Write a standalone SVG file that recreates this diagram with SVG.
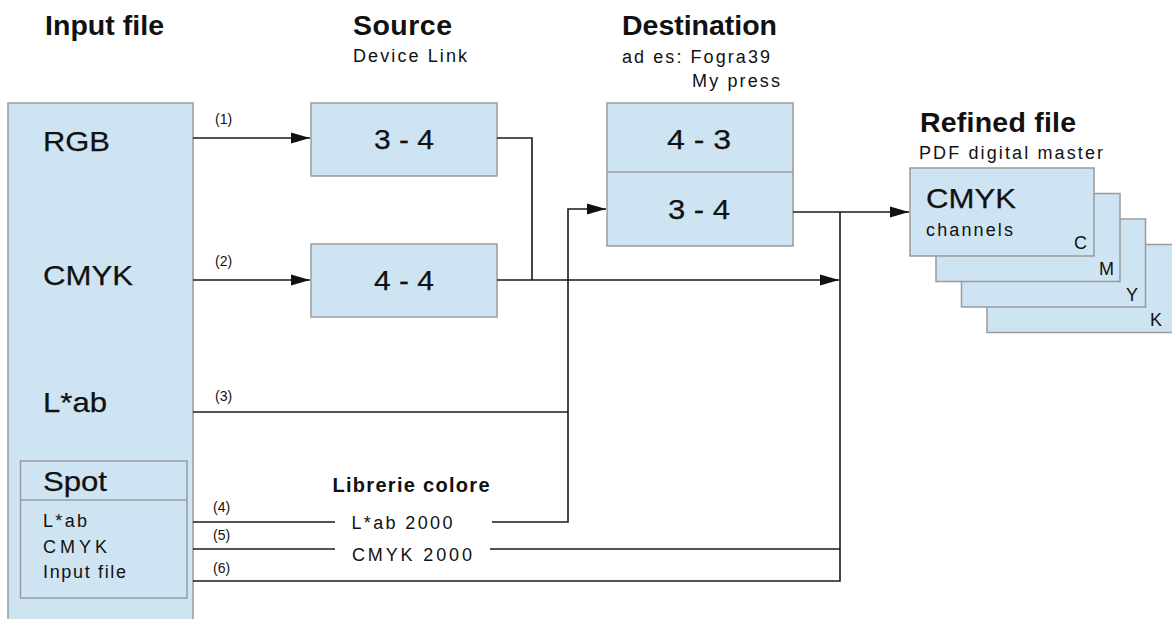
<svg xmlns="http://www.w3.org/2000/svg" width="1172" height="619" viewBox="0 0 1172 619">
  <style>
    text { font-family: "Liberation Sans", Arial, sans-serif; fill: #111; }
    .title { font-size: 28.5px; font-weight: bold; }
    .sub { font-size: 18px; }
    .big { font-size: 28px; stroke: #111; stroke-width: 0.25; }
    .mid { font-size: 18px; }
    .num { font-size: 14px; }
    .box { fill: #cfe4f2; stroke: #9a9a9a; stroke-width: 1.5; }
    .wire { fill: none; stroke: #1a1a1a; stroke-width: 1.6; }
  </style>
  <defs>
    <marker id="arrow" markerUnits="userSpaceOnUse" markerWidth="20" markerHeight="12" refX="19" refY="6" orient="auto">
      <path d="M0,0.5 L19,6 L0,11.5 z" fill="#111"/>
    </marker>
  </defs>

  <rect width="1172" height="619" fill="#ffffff"/>

  <!-- column headings -->
  <g id="headings">
    <text class="title" x="45" y="35" textLength="119">Input file</text>
    <text class="title" x="353" y="35" textLength="99">Source</text>
    <text class="sub" x="353" y="62" textLength="114">Device Link</text>
    <text class="title" x="622" y="35" textLength="155">Destination</text>
    <text class="sub" x="622" y="63" textLength="148">ad es: Fogra39</text>
    <text class="sub" x="692" y="87" textLength="88">My press</text>
  </g>

  <!-- input file column -->
  <g id="input-file">
    <rect class="box" x="8" y="103" width="185" height="540"/>
    <text class="big" x="43" y="151" textLength="67" lengthAdjust="spacingAndGlyphs">RGB</text>
    <text class="big" x="43" y="285" textLength="90" lengthAdjust="spacingAndGlyphs">CMYK</text>
    <text class="big" x="43" y="412" textLength="64" lengthAdjust="spacingAndGlyphs">L*ab</text>
  </g>

  <g id="spot">
    <rect class="box" x="20.5" y="461" width="166.5" height="137"/>
    <line x1="20.5" y1="500" x2="187" y2="500" stroke="#9a9a9a" stroke-width="1.5"/>
    <text class="big" x="43" y="491" textLength="64" lengthAdjust="spacingAndGlyphs">Spot</text>
    <text class="mid" x="43" y="527" textLength="44">L*ab</text>
    <text class="mid" x="43" y="553" textLength="64">CMYK</text>
    <text class="mid" x="43" y="578" textLength="83">Input file</text>
  </g>

  <!-- device link profiles -->
  <g id="source-rgb">
    <rect class="box" x="311" y="103" width="186" height="73"/>
    <text class="big" x="404" y="149" text-anchor="middle" textLength="60" lengthAdjust="spacingAndGlyphs">3 - 4</text>
  </g>
  <g id="source-cmyk">
    <rect class="box" x="311" y="244" width="186" height="73"/>
    <text class="big" x="404" y="290" text-anchor="middle" textLength="60" lengthAdjust="spacingAndGlyphs">4 - 4</text>
  </g>

  <!-- destination profile -->
  <g id="destination">
    <rect class="box" x="607" y="103" width="186" height="143"/>
    <line x1="607" y1="172" x2="793" y2="172" stroke="#9a9a9a" stroke-width="1.5"/>
    <text class="big" x="699" y="149" text-anchor="middle" textLength="64" lengthAdjust="spacingAndGlyphs">4 - 3</text>
    <text class="big" x="699" y="219" text-anchor="middle" textLength="62" lengthAdjust="spacingAndGlyphs">3 - 4</text>
  </g>

  <!-- colour libraries -->
  <g id="libraries">
    <text x="411" y="492" text-anchor="middle" font-size="20" font-weight="bold" textLength="157">Librerie colore</text>
    <text class="mid" x="402" y="529" text-anchor="middle" font-size="22" textLength="101">L*ab 2000</text>
    <text class="mid" x="412" y="561" text-anchor="middle" font-size="22" textLength="120">CMYK 2000</text>
  </g>

  <!-- output separations -->
  <g id="refined-file">
    <text class="title" x="920" y="132" textLength="156">Refined file</text>
    <text class="sub" x="919" y="159" textLength="184">PDF digital master</text>
    <rect class="box" x="987" y="244.5" width="186" height="88"/>
    <rect class="box" x="961.5" y="219" width="184" height="88"/>
    <rect class="box" x="936" y="193.5" width="184" height="88"/>
    <rect class="box" x="910" y="168" width="184" height="88"/>
    <text class="big" x="926" y="208" textLength="90" lengthAdjust="spacingAndGlyphs">CMYK</text>
    <text class="mid" x="926" y="236" textLength="87">channels</text>
    <text class="mid" x="1074" y="249">C</text>
    <text class="mid" x="1099" y="275">M</text>
    <text class="mid" x="1126" y="301">Y</text>
    <text class="mid" x="1150" y="326">K</text>
  </g>

  <!-- connectors -->
  <g id="connectors">
    <path class="wire" d="M193,138 H310" marker-end="url(#arrow)"/>
    <path class="wire" d="M193,280 H310" marker-end="url(#arrow)"/>
    <path class="wire" d="M497,138 H532 V280"/>
    <path class="wire" d="M497,280 H839" marker-end="url(#arrow)"/>
    <path class="wire" d="M193,412 H568"/>
    <path class="wire" d="M193,522 H335"/>
    <path class="wire" d="M492,522 H568 V209 H606" marker-end="url(#arrow)"/>
    <path class="wire" d="M193,549 H335"/>
    <path class="wire" d="M490,549 H840"/>
    <path class="wire" d="M193,581 H840 V212"/>
    <path class="wire" d="M793,212 H909" marker-end="url(#arrow)"/>

    <text class="num" x="215" y="124">(1)</text>
    <text class="num" x="215" y="266">(2)</text>
    <text class="num" x="215" y="401">(3)</text>
    <text class="num" x="213" y="512">(4)</text>
    <text class="num" x="213" y="540">(5)</text>
    <text class="num" x="213" y="573">(6)</text>
  </g>
</svg>
